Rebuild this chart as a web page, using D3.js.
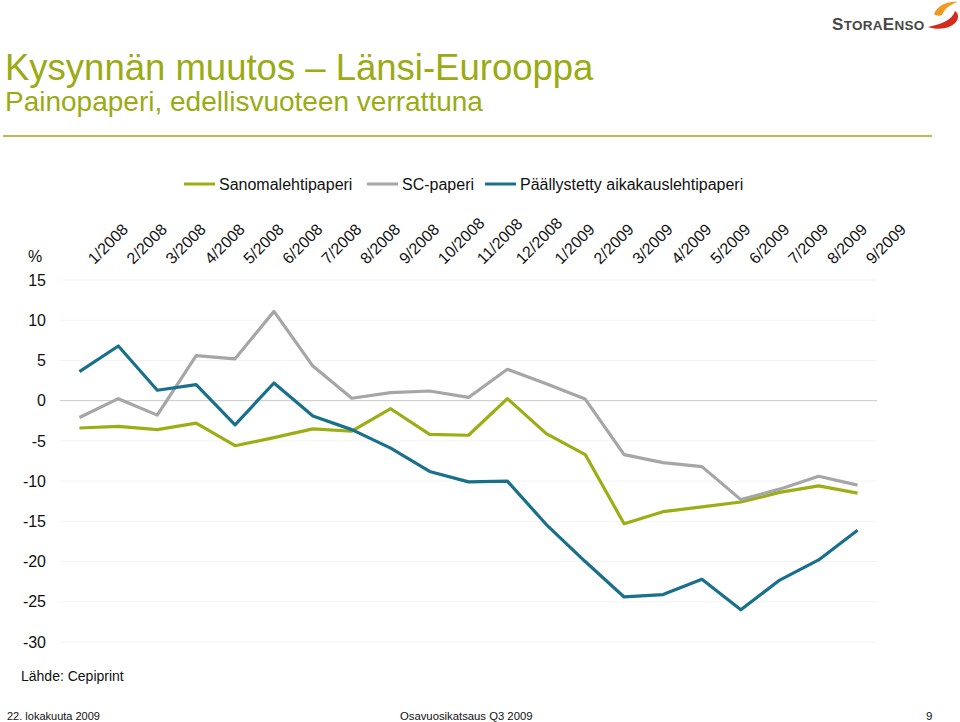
<!DOCTYPE html>
<html><head><meta charset="utf-8">
<script src="https://cdn.jsdelivr.net/npm/d3@7"></script>
<style>body{margin:0;background:#fff}svg{display:block;font-family:"Liberation Sans",Arial,sans-serif}</style>
</head><body>
<script>
const months = ["1/2008","2/2008","3/2008","4/2008","5/2008","6/2008","7/2008","8/2008","9/2008","10/2008","11/2008","12/2008",
  "1/2009","2/2009","3/2009","4/2009","5/2009","6/2009","7/2009","8/2009","9/2009"];
const seriesNames = ["Sanomalehtipaperi","SC-paperi","Päällystetty aikakauslehtipaperi"];
const sanomalehti = [-3.4,-3.2,-3.6,-2.8,-5.6,-4.6,-3.5,-3.8,-1.0,-4.2,-4.3,0.25,-4.1,-6.7,-15.3,-13.8,-13.2,-12.6,-11.4,-10.6,-11.5];
const scPaperi = [-2.1,0.25,-1.8,5.6,5.2,11.1,4.3,0.3,1.0,1.2,0.4,3.9,2.1,0.2,-6.7,-7.7,-8.2,-12.3,-11.0,-9.4,-10.5];
const paallystetty = [3.6,6.8,1.3,2.0,-3.0,2.2,-1.9,-3.6,-5.9,-8.8,-10.1,-10.0,-15.4,-20.0,-24.4,-24.1,-22.2,-26.0,-22.3,-19.8,-16.1];
const yTicks = [15,10,5,0,-5,-10,-15,-20,-25,-30];
const colors = ["#9dae14","#a6a6a6","#19708c"];

const W=960,H=722;
const svg=d3.select("body").append("svg").attr("width",W).attr("height",H);

// Logo
const logo=svg.append("text").attr("x",832).attr("y",30).attr("font-weight","bold")
  .attr("fill","#474747").attr("letter-spacing","0.3");
[["S",17],["TORA",13.5],["E",17],["NSO",13.5]].forEach(([t,s])=>logo.append("tspan").attr("font-size",s).text(t));
svg.append("path").attr("d","M934,14 C938,5 948,1 958,2 C951,4 945,8 942,15 C940,16 936,16 934,14 Z").attr("fill","#f29a1f");
svg.append("path").attr("d","M928,27 C942,24 952,20 955,11 C960,14 959,22 951,26 C945,29 936,30 928,27 Z").attr("fill","#d52b1e");

// Titles
const green="#9aab14";
svg.append("text").attr("x",5).attr("y",80).attr("font-size",36.5).attr("fill",green).text("Kysynnän muutos – Länsi-Eurooppa");
svg.append("text").attr("x",5).attr("y",111).attr("font-size",28).attr("fill",green).text("Painopaperi, edellisvuoteen verrattuna");
svg.append("line").attr("x1",3).attr("x2",932).attr("y1",136).attr("y2",136).attr("stroke",green).attr("stroke-width",1.5);

// Scales
const x=d3.scaleBand().domain(months).range([60,877]);
const y=d3.scaleLinear().domain([-30,15]).range([642,280]);
const cx=d=>x(d)+x.bandwidth()/2;

// Gridlines
svg.append("g").selectAll("line").data(yTicks).join("line")
  .attr("x1",60).attr("x2",877).attr("y1",d=>y(d)).attr("y2",d=>y(d))
  .attr("stroke",d=>d===0?"#c8c8c8":"#f3f3f3").attr("stroke-width",1);

// Y axis
const yAxis=svg.append("g").attr("transform","translate(46,0)")
  .call(d3.axisLeft(y).tickValues(yTicks).tickFormat(d=>String(d)).tickSize(0).tickPadding(0));
yAxis.select(".domain").remove();
yAxis.selectAll("text").attr("font-size",16).attr("fill","#111").attr("font-family","Liberation Sans, Arial, sans-serif");
svg.append("text").attr("x",28).attr("y",262).attr("font-size",16).attr("fill","#111").text("%");

// X axis labels (top, rotated)
const xAxis=svg.append("g").attr("transform","translate(0,265)")
  .call(d3.axisTop(x).tickSize(0).tickPadding(0));
xAxis.select(".domain").remove();
xAxis.selectAll("text").attr("font-size",16).attr("fill","#111")
  .attr("font-family","Liberation Sans, Arial, sans-serif")
  .attr("text-anchor","start").attr("dy",0)
  .attr("transform","translate(15,0) rotate(-45)");

// Lines
const allSeries=[sanomalehti,scPaperi,paallystetty];
const line=d3.line().x((d,i)=>cx(months[i])).y(d=>y(d));
svg.append("g").selectAll("path").data(allSeries).join("path")
  .attr("d",d=>line(d)).attr("fill","none").attr("stroke",(d,i)=>colors[i])
  .attr("stroke-width",3.2).attr("stroke-linejoin","round");

// Legend
const legX=[184,367,485];
const lg=svg.append("g");
seriesNames.forEach((n,i)=>{
  lg.append("line").attr("x1",legX[i]).attr("x2",legX[i]+31).attr("y1",184).attr("y2",184)
    .attr("stroke",colors[i]).attr("stroke-width",3);
  lg.append("text").attr("x",legX[i]+35).attr("y",190).attr("font-size",16).attr("fill","#111").text(n);
});

// Source & footer
svg.append("text").attr("x",21).attr("y",681).attr("font-size",14).attr("fill","#111").text("Lähde: Cepiprint");
svg.append("text").attr("x",7).attr("y",720).attr("font-size",11).attr("fill","#111").text("22. lokakuuta 2009");
svg.append("text").attr("x",400).attr("y",720).attr("font-size",11.3).attr("fill","#111").text("Osavuosikatsaus Q3 2009");
svg.append("text").attr("x",926).attr("y",720).attr("font-size",11.5).attr("fill","#111").text("9");
</script>
</body></html>
